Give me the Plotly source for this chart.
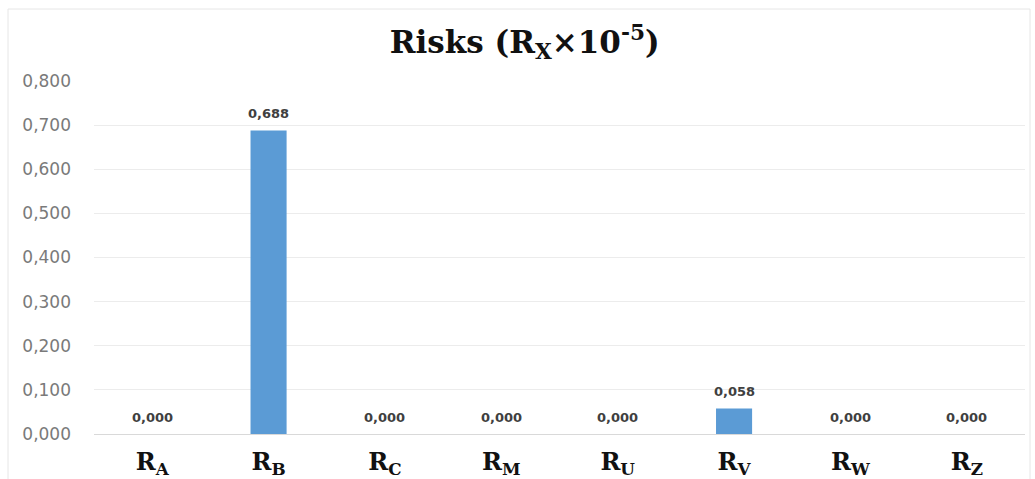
import plotly.graph_objects as go

# Risk values per receptor (×10^-5)
categories = ["R<sub>A</sub>", "R<sub>B</sub>", "R<sub>C</sub>", "R<sub>M</sub>",
              "R<sub>U</sub>", "R<sub>V</sub>", "R<sub>W</sub>", "R<sub>Z</sub>"]
risks = [0.000, 0.688, 0.000, 0.000, 0.000, 0.058, 0.000, 0.000]
y_ticks = [0.0, 0.1, 0.2, 0.3, 0.4, 0.5, 0.6, 0.7, 0.8]

W, H = 1035, 479
ml, mr, mt, mb = 94, 10, 81, 45
pw, ph = W - ml - mr, H - mt - mb

def px_x(x):
    return (x - ml) / pw

def px_y(y):
    return (H - mb - y) / ph

fig = go.Figure(go.Bar(
    x=categories,
    y=risks,
    marker=dict(color="#5b9bd5", line=dict(width=0)),
    hoverinfo="x+y",
))

# value labels above each bar
for cat, val in zip(categories, risks):
    fig.add_annotation(
        x=cat, y=val, xref="x", yref="y",
        text="<b>" + f"{val:.3f}".replace(".", ",") + "</b>",
        showarrow=False, yanchor="bottom", yshift=7,
        font=dict(family="DejaVu Sans", size=13, color="#404040"),
    )

fig.update_layout(
    width=W, height=H,
    margin=dict(l=ml, r=mr, t=mt, b=mb, autoexpand=False),
    paper_bgcolor="white",
    plot_bgcolor="white",
    separators=",.",
    bargap=0.69,
    showlegend=False,
    title=dict(
        text="<b>Risks (R<sub>X</sub>×10<sup>-5</sup>)</b>",
        x=0.507, xanchor="center",
        y=1 - 42 / H, yanchor="middle",
        font=dict(family="DejaVu Serif", size=31, color="#111111"),
    ),
    xaxis=dict(
        showgrid=False,
        showline=False,
        ticks="",
        tickfont=dict(family="DejaVu Serif", size=24, color="#111111"),
        tickvals=categories,
        ticktext=["<b>" + c + "</b>" for c in categories],
        ticklabelstandoff=11,
        automargin=False,
    ),
    yaxis=dict(
        range=[0, 0.8],
        tickvals=y_ticks,
        tickformat=".3f",
        showgrid=True,
        gridcolor="#ececec",
        gridwidth=1,
        zeroline=True,
        zerolinecolor="#d9d9d9",
        zerolinewidth=1,
        showline=False,
        ticks="",
        tickfont=dict(family="DejaVu Sans", size=17, color="#7a7a7a"),
        ticklabelstandoff=22,
        automargin=False,
    ),
    shapes=[dict(
        type="rect", xref="paper", yref="paper",
        x0=px_x(8), x1=px_x(1030), y0=px_y(9), y1=px_y(490),
        line=dict(color="#e6e6e6", width=1),
        fillcolor="rgba(0,0,0,0)", layer="below",
    )],
)

fig.write_html("out.html")
